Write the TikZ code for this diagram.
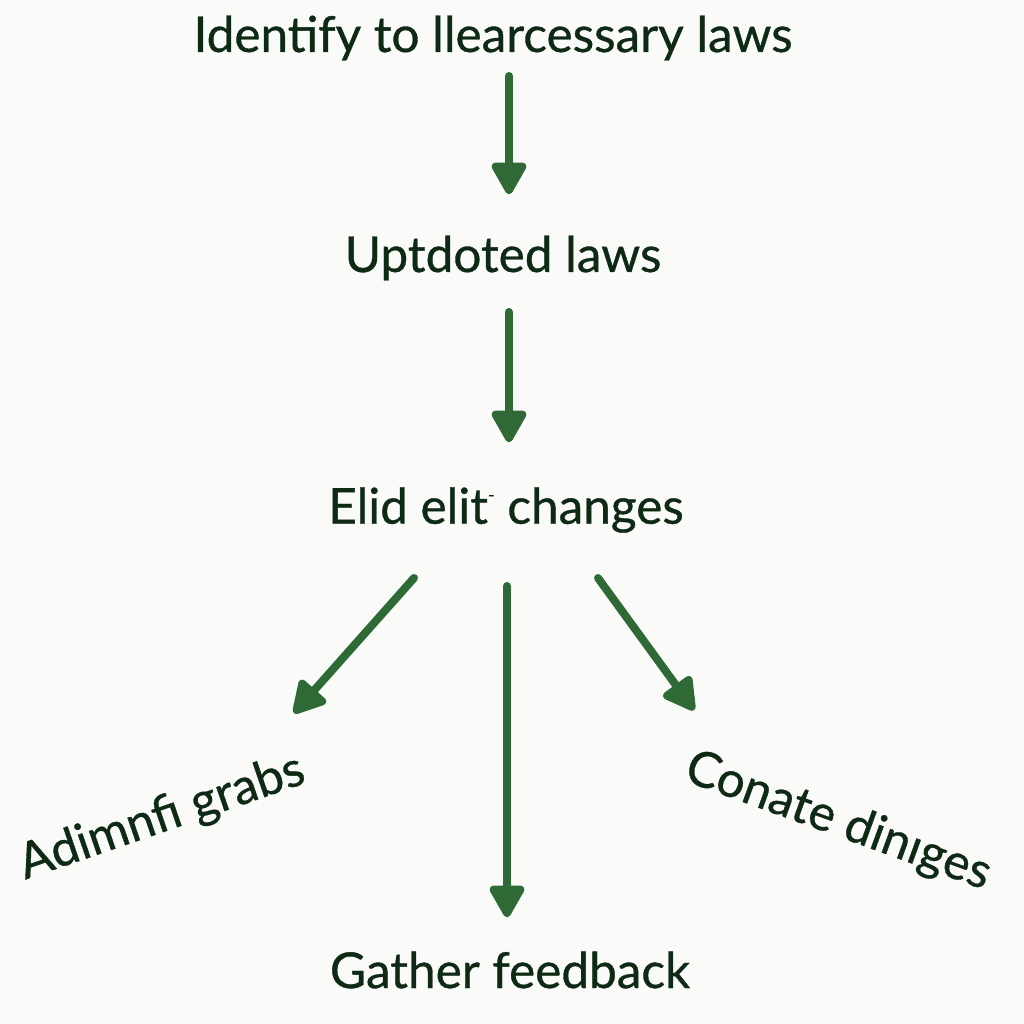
\documentclass[tikz,border=0pt]{standalone}
\usepackage{fontspec}
\setmainfont{Lato}
\newfontfamily\lblfont{Lato}[FakeBold=0.7]
\usetikzlibrary{arrows.meta}
\definecolor{txtgreen}{HTML}{0F2A14}
\definecolor{arrgreen}{HTML}{2F6A36}
\definecolor{bgcol}{HTML}{FAFBF9}
\tikzset{
  lbl/.style={text=txtgreen, inner sep=0pt, font=\lblfont\fontsize{49.5}{58}\selectfont},
  flow/.style={draw=arrgreen, line width=8pt, line cap=round,
    -{Triangle[width=38pt,length=36pt,round]}}
}
\begin{document}
\begin{tikzpicture}[x=1pt,y=-1pt]
\fill[bgcol] (0,0) rectangle (1024,1024);
\useasboundingbox (0,0) rectangle (1024,1024);
\node[lbl] (t1) at (493,38) {Identify to llearcessary laws};
\node[lbl] (t2) at (503,258) {Uptdoted laws};
\node[lbl] (t3) at (506,510) {Elid elit\raisebox{0.9ex}{\fontsize{18}{18}\selectfont -} changes};
\node[lbl, rotate=19] (t4) at (162,818) {Adimnfi grabs};
\node[lbl, rotate=-20] (t5) at (838,822) {Conate dinıges};
\node[lbl] (t6) at (510,970) {Gather feedback};
\coordinate (a1s) at (509,76);
\coordinate (a1e) at (509,194);
\coordinate (a2s) at (509,312);
\coordinate (a2e) at (509,442);
\coordinate (a3s) at (414,578);
\coordinate (a3e) at (294,713);
\coordinate (a4s) at (507,586);
\coordinate (a4e) at (507,917);
\coordinate (a5s) at (598,578);
\coordinate (a5e) at (694,710);
\draw[flow] (a1s) -- (a1e);
\draw[flow] (a2s) -- (a2e);
\draw[flow] (a3s) -- (a3e);
\draw[flow] (a4s) -- (a4e);
\draw[flow] (a5s) -- (a5e);
\end{tikzpicture}
\end{document}
